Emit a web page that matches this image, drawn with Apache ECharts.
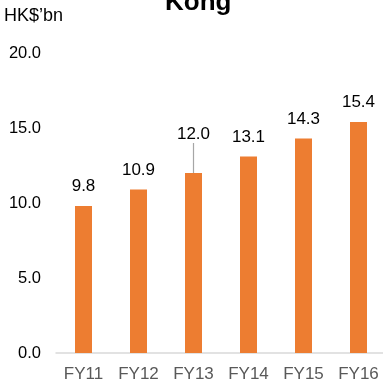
<!DOCTYPE html>
<html>
<head>
<meta charset="utf-8">
<script src="https://cdn.jsdelivr.net/npm/echarts@6/dist/echarts.min.js"></script>
<style>
  html, body { margin: 0; padding: 0; background: #fff; }
  #chart { width: 383px; height: 379px; }
</style>
</head>
<body>
<div id="chart"></div>
<script>
const years = ['FY11', 'FY12', 'FY13', 'FY14', 'FY15', 'FY16'];
const revenue = [9.8, 10.9, 12.0, 13.1, 14.3, 15.4];
const yTicks = [0, 5, 10, 15, 20];
// FY13 label is lifted above its bar and tied back with a leader line
const liftedIndex = 2;

const chart = echarts.init(document.getElementById('chart'), null, { renderer: 'canvas' });
const font = '"Liberation Sans", Arial, sans-serif';

chart.setOption({
  animation: false,
  title: {
    text: 'Kong',
    left: 160,
    top: -15,
    textStyle: { fontFamily: font, fontSize: 26, fontWeight: 'bold', color: '#000' }
  },
  graphic: [{
    type: 'text',
    left: 4,
    top: 7,
    style: { text: 'HK$\u2019bn', font: '18px ' + font, fill: '#000' }
  }],
  grid: {
    left: 56, top: 53, width: 330, height: 300,
    containLabel: false,
    outerBoundsMode: 'none'
  },
  xAxis: {
    type: 'category',
    data: years,
    axisLine: { lineStyle: { color: '#d9d9d9', width: 1.5 } },
    axisTick: { show: false },
    axisLabel: { color: '#595959', fontFamily: font, fontSize: 17, margin: 13 }
  },
  yAxis: {
    type: 'value',
    min: yTicks[0],
    max: yTicks[yTicks.length - 1],
    interval: 5,
    splitLine: { show: false },
    axisLine: { show: false },
    axisTick: { show: false },
    axisLabel: {
      color: '#000', fontFamily: font, fontSize: 16.5, margin: 15,
      formatter: v => v.toFixed(1)
    }
  },
  series: [{
    type: 'bar',
    data: revenue.map((v, i) => ({
      value: v,
      labelLine: { show: i === liftedIndex }
    })),
    barWidth: 17,
    itemStyle: { color: '#ed7d31' },
    label: {
      show: true,
      position: 'top',
      distance: 11,
      color: '#000',
      fontFamily: font,
      fontSize: 17,
      formatter: p => p.value.toFixed(1)
    },
    labelLine: { lineStyle: { color: '#a6a6a6', width: 1.2 } },
    labelLayout: function (params) {
      return params.dataIndex === liftedIndex ? { dy: -19 } : {};
    }
  }]
});
</script>
</body>
</html>
